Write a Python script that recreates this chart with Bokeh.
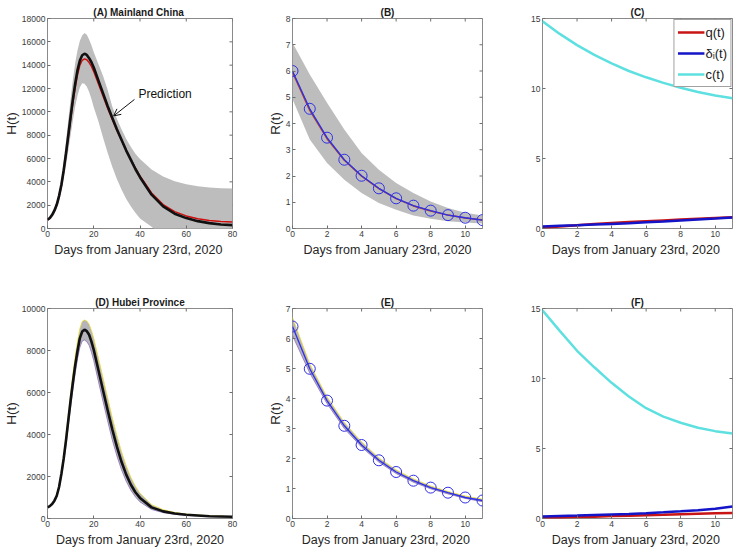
import math
from bokeh.plotting import figure
from bokeh.layouts import gridplot
from bokeh.models import (Range1d, FixedTicker, Legend, LegendItem,
                          Arrow, OpenHead, Label)
from bokeh.embed import file_html
from bokeh.resources import INLINE

FONT = "Liberation Sans"

# ---------------- data ----------------
# Panel A / D time grid (days from Jan 23rd, 2020)
days_h = [0, 1, 2, 3, 4, 5, 6, 7, 8, 9, 10, 11, 12, 13, 14, 15, 16, 17, 18, 19, 20,
          22, 24, 26, 28, 30, 32, 34, 36, 38, 40, 45, 50, 55, 60, 65, 70, 75, 80]
# (A) Mainland China
h_china_data = [743, 900, 1170, 1550, 2050, 2800, 3750, 5000, 6450, 8000, 9600, 11100,
                12450, 13600, 14400, 14850, 14980, 14880, 14600, 14250, 13800,
                12700, 11600, 10500, 9500, 8500, 7600, 6700, 5900, 5100, 4400,
                2900, 1900, 1270, 890, 630, 460, 340, 290]
h_china_fit = [743, 890, 1150, 1520, 2000, 2730, 3650, 4870, 6300, 7800, 9350, 10800,
               12100, 13200, 14000, 14420, 14540, 14460, 14220, 13900, 13450,
               12400, 11350, 10300, 9350, 8400, 7550, 6700, 5920, 5200, 4500,
               3050, 2050, 1450, 1080, 830, 690, 610, 560]
h_china_upper = [800, 980, 1260, 1680, 2200, 3050, 4150, 5700, 7500, 9300, 11100, 12800,
                 14200, 15300, 16100, 16550, 16750, 16600, 16200, 15700, 15100,
                 14100, 13100, 11900, 10450, 9400, 8500, 7700, 7000, 6400, 5950,
                 5050, 4450, 4050, 3800, 3620, 3520, 3460, 3420]
h_china_lower = [650, 780, 950, 1250, 1700, 2300, 3100, 4150, 5400, 6700, 8000, 9300,
                 10500, 11400, 12100, 12450, 12400, 12150, 11700, 11100, 10400,
                 9200, 7800, 6500, 5300, 4250, 3350, 2550, 1900, 1350, 850,
                 150, -700, -1300, -1700, -2000, -2200, -2350, -2450]
# (D) Hubei Province
h_hubei = [527, 590, 690, 850, 1085, 1500, 2120, 2850, 3720, 4680, 5630, 6500, 7310,
           8000, 8590, 8900, 8990, 8920, 8750, 8420, 8030, 7070, 6110, 5160, 4250,
           3420, 2700, 2100, 1620, 1250, 980, 530, 340, 240, 175, 145, 110, 95, 80]
h_hubei_upper = [540, 605, 720, 890, 1150, 1600, 2250, 3050, 3950, 4950, 5950, 6900,
                 7750, 8450, 9050, 9380, 9450, 9400, 9250, 8950, 8580, 7650, 6700,
                 5750, 4800, 3950, 3180, 2520, 1970, 1540, 1200, 660, 420, 290, 210,
                 170, 130, 110, 90]
h_hubei_lower = [510, 570, 660, 810, 1030, 1420, 2000, 2700, 3500, 4420, 5300, 6150,
                 6950, 7620, 8150, 8450, 8500, 8420, 8250, 7920, 7520, 6540, 5580,
                 4650, 3750, 2980, 2320, 1780, 1350, 1030, 790, 430, 280, 200, 150,
                 120, 95, 80, 70]

# Panels B, C, E, F: days 0..11
days_r = [0, 1, 2, 3, 4, 5, 6, 7, 8, 9, 10, 11]
# (B)
r_china = [6.0, 4.56, 3.46, 2.62, 2.01, 1.53, 1.15, 0.87, 0.68, 0.51, 0.41, 0.32]
r_china_fit = [5.95, 4.5, 3.42, 2.6, 1.99, 1.52, 1.14, 0.86, 0.67, 0.51, 0.40, 0.32]
r_china_upper = [7.08, 5.87, 4.79, 3.77, 2.88, 2.24, 1.73, 1.35, 1.03, 0.78, 0.60, 0.50]
r_china_lower = [4.92, 3.39, 2.50, 1.86, 1.35, 0.97, 0.71, 0.50, 0.37, 0.28, 0.23, 0.19]
# (C)
q_china = [0.05, 0.15, 0.24, 0.32, 0.39, 0.46, 0.52, 0.58, 0.64, 0.70, 0.75, 0.80]
d_china = [0.15, 0.19, 0.23, 0.28, 0.33, 0.38, 0.44, 0.50, 0.57, 0.64, 0.71, 0.79]
c_china = [14.8, 13.9, 13.1, 12.4, 11.8, 11.25, 10.8, 10.4, 10.05, 9.75, 9.5, 9.3]
# (E)
r_hubei = [6.40, 4.99, 3.93, 3.09, 2.45, 1.94, 1.55, 1.26, 1.03, 0.86, 0.70, 0.60]
r_hubei_upper = [6.70, 5.15, 4.05, 3.20, 2.55, 2.02, 1.62, 1.32, 1.08, 0.90, 0.75, 0.64]
r_hubei_lower = [6.10, 4.85, 3.83, 3.00, 2.38, 1.88, 1.50, 1.21, 0.99, 0.82, 0.67, 0.56]
# (F)
q_hubei = [0.03, 0.06, 0.10, 0.13, 0.17, 0.20, 0.24, 0.27, 0.31, 0.34, 0.37, 0.40]
d_hubei = [0.15, 0.18, 0.21, 0.25, 0.29, 0.33, 0.38, 0.44, 0.51, 0.59, 0.70, 0.85]
c_hubei = [14.87, 13.4, 11.98, 10.8, 9.69, 8.72, 7.88, 7.28, 6.84, 6.48, 6.24, 6.07]

h_ticks_x = [0, 20, 40, 60, 80]
r_ticks_x = [0, 2, 4, 6, 8, 10]
china_h_ticks = [0, 2000, 4000, 6000, 8000, 10000, 12000, 14000, 16000, 18000]
hubei_h_ticks = [0, 2000, 4000, 6000, 8000, 10000]
china_r_ticks = [0, 1, 2, 3, 4, 5, 6, 7, 8]
hubei_r_ticks = [0, 1, 2, 3, 4, 5, 6, 7]
ctrl_ticks = [0, 5, 10, 15]

# annotation of panel A
pred_text_pos = (39.3, 11570)
pred_arrow = (37.6, 11060, 28.6, 9650)

XLAB2 = "Days from January 23rd,  2020"
XLAB1 = "Days from January 23rd, 2020"

RED = "#c81414"
BLUE = "#1414c8"
CYAN = "#5fe0e0"
CIRC = "#3030e6"
GRAY = "#bdbdbd"
BOX = "#8a8a8a"
TICK = "#6e6e6e"


def style_axis(ax):
    ax.axis_line_color = None
    ax.major_tick_line_color = TICK
    ax.major_tick_in = 3
    ax.major_tick_out = 0
    ax.minor_tick_line_color = None
    ax.major_label_text_font = FONT
    ax.major_label_text_color = "#3c3c3c"
    ax.major_label_text_font_size = "8.5px"
    ax.major_label_standoff = 2
    ax.axis_label_text_font = FONT
    ax.axis_label_text_font_style = "normal"
    ax.axis_label_text_color = "#262626"
    ax.axis_label_standoff = 0


def make_fig(w, h, borders, xr, yr, xt, yt, title, xlabel, ylabel):
    left, right, top, bottom = borders
    p = figure(width=w, height=h, output_backend="svg", toolbar_location=None,
               tools="", x_range=Range1d(*xr), y_range=Range1d(*yr),
               min_border_left=left, min_border_right=right,
               min_border_top=top, min_border_bottom=bottom)
    p.title.text = title
    p.title.align = "center"
    p.title.text_font = FONT
    p.title.text_font_size = "10px"
    p.title.text_font_style = "bold"
    p.title.text_color = "#1a1a1a"
    p.title.standoff = 2
    p.xgrid.visible = False
    p.ygrid.visible = False
    p.outline_line_color = BOX
    p.outline_line_width = 1
    p.background_fill_color = "white"
    p.border_fill_color = "white"
    p.xaxis.ticker = FixedTicker(ticks=xt)
    p.yaxis.ticker = FixedTicker(ticks=yt)
    p.xaxis.axis_label = xlabel
    p.xaxis.axis_label_text_font_size = "12.5px"
    if ylabel:
        p.yaxis.axis_label = ylabel
        p.yaxis.axis_label_text_font_size = "13.5px"
    for ax in p.xaxis + p.yaxis:
        style_axis(ax)
    p.xaxis.axis_label_standoff = 3
    # inward ticks on the top and right edges of the box (outer half is clipped)
    p.scatter(x=xt, y=[yr[1]] * len(xt), marker="dash", angle=math.pi / 2,
              size=6, line_color=TICK, line_width=1)
    p.scatter(x=[xr[1]] * len(yt), y=yt, marker="dash",
              size=6, line_color=TICK, line_width=1)
    return p


W0, W1, W2 = 262, 250, 228
H0, H1 = 280, 274
B0 = [(43, 30, 18, 52), (30, 30, 18, 52), (30, 8, 18, 52)]
B1 = [(43, 30, 28, 36), (30, 30, 28, 36), (30, 8, 28, 36)]

# (A)
pA = make_fig(W0, H0, B0[0], (0, 80), (0, 18000), h_ticks_x, china_h_ticks,
              "(A)  Mainland China", XLAB2, "H(t)")
pA.varea(x=days_h, y1=h_china_lower, y2=h_china_upper, fill_color=GRAY)
pA.line(days_h, h_china_fit, line_color="#d01010", line_width=1.5)
pA.line(days_h, h_china_data, line_color="#111111", line_width=2.6)
pA.add_layout(Label(x=pred_text_pos[0], y=pred_text_pos[1], text="Prediction",
                    text_font=FONT, text_font_size="12px", text_baseline="middle",
                    text_color="#111111"))
pA.add_layout(Arrow(end=OpenHead(size=7, line_width=1, line_color="#111111"),
                    x_start=pred_arrow[0], y_start=pred_arrow[1],
                    x_end=pred_arrow[2], y_end=pred_arrow[3],
                    line_width=1, line_color="#111111"))

# (B)
pB = make_fig(W1, H0, B0[1], (0, 11), (0, 8), r_ticks_x, china_r_ticks,
              "(B)", XLAB1, "R(t)")
pB.varea(x=days_r, y1=r_china_lower, y2=r_china_upper, fill_color=GRAY)
pB.line(days_r, r_china_fit, line_color="#b04020", line_width=1.5)
pB.line(days_r, r_china, line_color=CIRC, line_width=1.3)
pB.scatter(days_r, r_china, marker="circle", size=11, fill_color=None,
           line_color=CIRC, line_width=1)

# (C)
pC = make_fig(W2, H0, B0[2], (0, 11), (0, 15), r_ticks_x, ctrl_ticks,
              "(C)", XLAB2, None)
lq = pC.line(days_r, q_china, line_color=RED, line_width=2.5)
ld = pC.line(days_r, d_china, line_color=BLUE, line_width=2.5)
lc = pC.line(days_r, c_china, line_color=CYAN, line_width=2.5)
legend = Legend(items=[LegendItem(label="q(t)", renderers=[lq]),
                       LegendItem(label="δᵢ(t)", renderers=[ld]),
                       LegendItem(label="c(t)", renderers=[lc])],
                location="top_right")
legend.label_text_font = FONT
legend.label_text_font_size = "13px"
legend.label_text_color = "#1a1a1a"
legend.glyph_width = 27
legend.glyph_height = 16
legend.label_standoff = 1
legend.label_height = 18
legend.padding = 3
legend.spacing = 3
legend.margin = 1
legend.border_line_color = "#444444"
legend.border_line_width = 1
legend.background_fill_alpha = 1
pC.add_layout(legend)

# (D)
pD = make_fig(W0, H1, B1[0], (0, 80), (0, 10000), h_ticks_x, hubei_h_ticks,
              "(D) Hubei Province", XLAB1, "H(t)")
pD.varea(x=days_h, y1=h_hubei_lower, y2=h_hubei_upper, fill_color="#b5b3bb")
pD.line(days_h, h_hubei_upper, line_color="#e8dc30", line_width=0.8)
pD.line(days_h, h_hubei_lower, line_color="#8a70b8", line_width=0.8)
pD.line(days_h, h_hubei, line_color="#111111", line_width=2.6)

# (E)
pE = make_fig(W1, H1, B1[1], (0, 11), (0, 7), r_ticks_x, hubei_r_ticks,
              "(E)", XLAB2, "R(t)")
pE.varea(x=days_r, y1=r_hubei_lower, y2=r_hubei_upper, fill_color="#b5b3bb")
pE.line(days_r, r_hubei_upper, line_color="#e8dc30", line_width=0.8)
pE.line(days_r, r_hubei_lower, line_color="#8a70b8", line_width=0.8)
pE.line(days_r, r_hubei, line_color=CIRC, line_width=1.3)
pE.scatter(days_r, r_hubei, marker="circle", size=11, fill_color=None,
           line_color=CIRC, line_width=1)

# (F)
pF = make_fig(W2, H1, B1[2], (0, 11), (0, 15), r_ticks_x, ctrl_ticks,
              "(F)", XLAB2, None)
pF.line(days_r, q_hubei, line_color=RED, line_width=2.5)
pF.line(days_r, d_hubei, line_color=BLUE, line_width=2.5)
pF.line(days_r, c_hubei, line_color=CYAN, line_width=2.5)

grid = gridplot([[pA, pB, pC], [pD, pE, pF]], toolbar_location=None)

open("out.html", "w").write(file_html(grid, INLINE))
